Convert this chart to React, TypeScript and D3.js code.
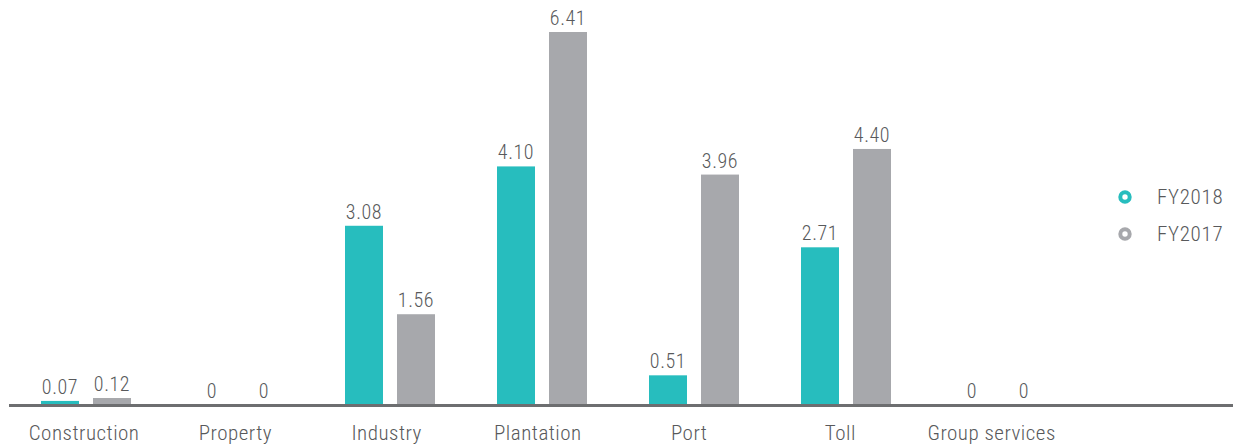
import React from "react";
import * as d3 from "d3";

const categories = ["Construction", "Property", "Industry", "Plantation", "Port", "Toll", "Group services"];
const fy2018 = [0.07, 0, 3.08, 4.10, 0.51, 2.71, 0];
const fy2017 = [0.12, 0, 1.56, 6.41, 3.96, 4.40, 0];
const seriesNames = ["FY2018", "FY2017"];
const seriesColors = ["#27bdbe", "#a7a8ac"];
const valueLabels2018 = ["0.07", "0", "3.08", "4.10", "0.51", "2.71", "0"];
const valueLabels2017 = ["0.12", "0", "1.56", "6.41", "3.96", "4.40", "0"];

const W = 1235;
const H = 445;
const baseY = 405;
const FONT = "'Roboto Condensed', 'Liberation Sans Narrow', 'Arial Narrow', sans-serif";
const TEXT = "#58595b";

export default function App() {
  // bar groups and category captions sit on slightly different pitches
  const x = d3.scaleBand<string>().domain(categories).range([10, 1074]).padding(0);
  const xLabel = d3.scaleBand<string>().domain(categories).range([8.5, 8.5 + 151.25 * 7]).padding(0);
  const y = d3.scaleLinear().domain([0, 6.41]).range([baseY, 32]);
  const series = [
    { name: seriesNames[0], values: fy2018, labels: valueLabels2018, color: seriesColors[0] },
    { name: seriesNames[1], values: fy2017, labels: valueLabels2017, color: seriesColors[1] },
  ];
  const bw = 38;

  return (
    <svg width={W} height={H} style={{ position: "absolute", left: 0, top: 0 }}>
      {categories.map((c, i) => {
        const cx = (x(c) as number) + x.bandwidth() / 2;
        const lx = (xLabel(c) as number) + xLabel.bandwidth() / 2;
        return (
          <g key={c}>
            {series.map((s, j) => {
              const center = cx + (j === 0 ? -26 : 26);
              const v = s.values[i];
              return (
                <g key={s.name}>
                  {v > 0 && (
                    <rect x={center - bw / 2} y={y(v)} width={bw} height={baseY - y(v)} fill={s.color} />
                  )}
                  <text x={center} y={y(v) - 7} textAnchor="middle" fontFamily={FONT} fontWeight={300} fontSize={20} letterSpacing={0.6} fill={TEXT}>
                    {s.labels[i]}
                  </text>
                </g>
              );
            })}
            <text x={lx} y={440} textAnchor="middle" fontFamily={FONT} fontWeight={300} fontSize={21} letterSpacing={0.5} fill={TEXT}>
              {c}
            </text>
          </g>
        );
      })}
      <line x1={9} x2={1233} y1={baseY + 0.5} y2={baseY + 0.5} stroke="#6d6e70" strokeWidth={3} />
      {series.map((s, j) => (
        <g key={s.name} transform={`translate(0, ${197 + j * 37})`}>
          <circle cx={1125} cy={0} r={4.7} fill="none" stroke={s.color} strokeWidth={4} />
          <text x={1157} y={7} fontFamily={FONT} fontWeight={300} fontSize={21} letterSpacing={0.7} fill={TEXT}>
            {s.name}
          </text>
        </g>
      ))}
    </svg>
  );
}
